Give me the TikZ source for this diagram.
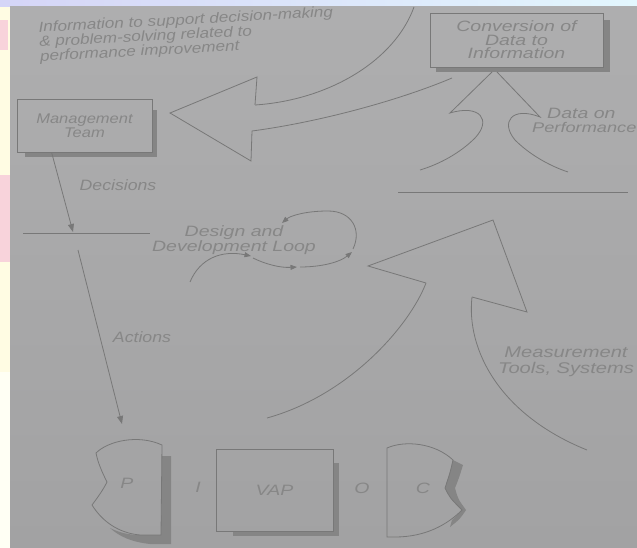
\documentclass[tikz,border=0pt]{standalone}
\usepackage{fontspec}
\newfontfamily\fA{Liberation Sans}[FakeStretch=1.18]
\newfontfamily\fB{Liberation Sans}[FakeStretch=1.3]
\usetikzlibrary{arrows.meta,calc}
\definecolor{paperT}{HTML}{AEAEAF}
\definecolor{paperB}{HTML}{A2A2A3}
\definecolor{ink}{HTML}{787878}
\definecolor{txt}{HTML}{878787}
\definecolor{shad}{HTML}{858585}
\definecolor{bgyel}{HTML}{FFFCE3}
\definecolor{bgwh}{HTML}{FFFFF4}
\definecolor{bgpink}{HTML}{F8D3DB}
\definecolor{bglav}{HTML}{D5D5F7}
\definecolor{bgcyan}{HTML}{E3F7FE}
\begin{document}
\begin{tikzpicture}[x=1pt,y=-1pt,
  ln/.style={draw=ink,line width=0.8pt},
  arr/.style={ln,-{Triangle[length=8pt,width=6pt]}},
  sarr/.style={ln,-{Triangle[length=6.5pt,width=5pt]}},
  boxst/.style={ln,rectangle,inner sep=0pt},
  tA/.style={text=txt,font=\fA\itshape\fontsize{15}{14}\selectfont,inner sep=0pt},
  tB/.style={text=txt,font=\fB\itshape\fontsize{15}{15}\selectfont,inner sep=0pt}]
\useasboundingbox (0,0) rectangle (637,548);
\clip (0,0) rectangle (637,548);
% slide background and paper
\fill[bgyel] (0,0) rectangle (637,548);
\fill[bgwh] (0,372) rectangle (10,548);
\fill[bgpink] (0,20) rectangle (8,50);
\fill[bgpink] (0,175) rectangle (10,262);
\shade[left color=bglav,right color=bgcyan] (0,0) rectangle (637,7);
\shade[top color=paperT,bottom color=paperB] (10,7) rectangle (637,548);

% top text
\node[tA,anchor=north west,rotate=3,align=left,font=\fA\itshape\fontsize{14.5}{13.5}\selectfont] (info) at (38,21.5)
  {Information to support decision-making\\\& problem-solving related to\\performance improvement};

% Management team box
\fill[shad] (152,110) rectangle (157,157);
\fill[shad] (25,152) rectangle (157,157);
\node[boxst,tA,minimum width=135pt,minimum height=53pt,align=center,
  font=\fA\itshape\fontsize{14}{14}\selectfont] (mgmt) at (84.5,125.5) {Management\\Team};

% Conversion box
\fill[shad] (603,20) rectangle (610,72);
\fill[shad] (436,67) rectangle (610,72);
\node[boxst,tB,minimum width=173pt,minimum height=54pt,align=center,
  font=\fB\itshape\fontsize{15}{13.5}\selectfont] (conv) at (516.5,40) {Conversion of\\Data to\\Information};

% big arrow from conversion to management
\draw[ln] (255,105) -- (257,77) -- (170,113) -- (251,161) -- (252,131);
\draw[ln] (255,105) .. controls (330,100) and (395,60) .. (414,7);
\draw[ln] (252,131) .. controls (320,122) and (400,100) .. (452,78);

% data on performance arrow
\coordinate (dpl) at (492,72);
\coordinate (dpr) at (497,72);
\draw[ln] (dpl) -- (450,113) .. controls (480,104) and (492,120) .. (475,138) .. controls (460,153) and (440,164) .. (420,170);
\draw[ln] (dpr) -- (540,117) .. controls (512,106) and (500,122) .. (515,140) .. controls (530,155) and (550,166) .. (568,172);
\node[tB,anchor=west] (don) at (547,113) {Data on};
\node[tB,anchor=west,font=\fB\itshape\fontsize{14}{14}\selectfont] (perf) at (532,127) {Performance};

% horizontal lines
\coordinate (h1a) at (23,233);
\coordinate (h1b) at (150,233);
\draw[ln] (h1a) -- (h1b);
\coordinate (h2a) at (398,192);
\coordinate (h2b) at (628,192);
\draw[ln] (h2a) -- (h2b);

% decisions / actions
\coordinate (dtip) at (73,232);
\draw[arr] ($(mgmt.south west)+(35,0)$) -- (dtip);
\node[tA] (dec) at (118,185) {Decisions};
\coordinate (a0) at (78,250);
\coordinate (atip) at (122,424);
\draw[arr] (a0) -- (atip);
\node[tA] (act) at (142,337) {Actions};

% design and development loop
\node[tB,align=center] (ddl) at (234,240) {Design and\\Development Loop};
\draw[sarr] (190,282) .. controls (200,258) and (222,250) .. (251,256);
\draw[sarr] (253,258) .. controls (265,264) and (280,268) .. (297,267);
\draw[sarr] (300,267) .. controls (322,267) and (340,262) .. (352,252);
\draw[sarr] (353,249) .. controls (362,230) and (352,211) .. (328,211) .. controls (305,211) and (290,216) .. (282,223);

% measurement arrow
\draw[ln] (426,283) -- (368,266) -- (493,220) -- (527,312) -- (472,297);
\draw[ln] (426,283) .. controls (410,325) and (350,395) .. (267,418);
\draw[ln] (472,297) .. controls (466,350) and (500,415) .. (587,450);
\node[tB,align=center,font=\fB\itshape\fontsize{15.5}{16}\selectfont] (mts) at (566,362) {Measurement\\Tools, Systems};

% P shape
\fill[shad] (161,535) -- (162,456) -- (171,456) -- (171,544) -- (150,544) .. controls (132,542) and (120,537) .. (110,528) .. controls (120,533) and (130,535) .. (140,535) -- cycle;
\draw[ln] (96,453) .. controls (108,441) and (138,434) .. (162,445) -- (161,535) -- (140,535) .. controls (118,533) and (102,521) .. (92,505) .. controls (98,497) and (103,490) .. (107,482) .. controls (102,472) and (98,463) .. (96,453) -- cycle;
\node[tB] (pl) at (127,483) {P};
\node[tB] (il) at (198,487) {I};

% VAP box
\fill[shad] (333,463) rectangle (339,536);
\fill[shad] (233,531) rectangle (339,536);
\node[boxst,tB,minimum width=117pt,minimum height=82pt] (vap) at (274.5,490) {VAP};
\node[tB] (ol) at (362,488) {O};

% C shape
\fill[shad] (453,460) -- (463,465) .. controls (459,478) .. (455,488) .. controls (458,499) .. (466,510) .. controls (460,519) .. (450,527) -- (452,520) -- (462,510) .. controls (450,498) .. (445,488) .. controls (450,473) .. (453,460) -- cycle;
\draw[ln] (387,448) .. controls (405,440) and (435,443) .. (453,460) .. controls (450,473) .. (445,488) .. controls (450,498) .. (462,510) .. controls (447,525) and (425,537) .. (395,537) -- (387,537) -- cycle;
\node[tB] (cl) at (423,488) {C};
\end{tikzpicture}
\end{document}
